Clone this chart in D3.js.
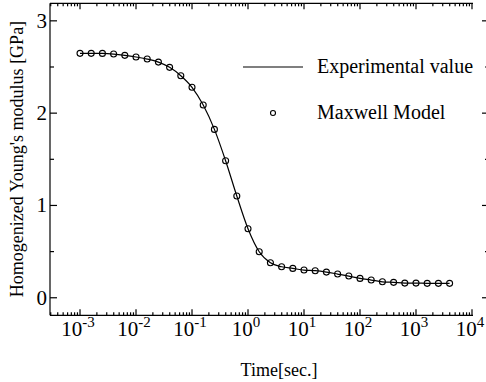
<!DOCTYPE html>
<html>
<head>
<meta charset="utf-8">
<script src="https://cdn.jsdelivr.net/npm/d3@7"></script>
<style>
  body { margin: 0; background: #fff; }
  svg text { font-family: 'Liberation Serif', 'Times New Roman', Times, serif; fill: #000; font-weight: normal; }
</style>
</head>
<body>
<svg id="chart" width="486" height="382"></svg>
<script>
// time points (log10 of seconds)
const logTimes = [-3, -2.8, -2.6, -2.4, -2.2, -2, -1.8, -1.6, -1.4, -1.2, -1, -0.8, -0.6, -0.4, -0.2,
  0, 0.2, 0.4, 0.6, 0.8, 1, 1.2, 1.4, 1.6, 1.8, 2, 2.2, 2.4, 2.6, 2.8, 3, 3.2, 3.4, 3.6];
// experimental curve
const experimental = [2.648, 2.648, 2.647, 2.64, 2.626, 2.608, 2.586, 2.553, 2.496, 2.405, 2.28, 2.088, 1.824, 1.484, 1.102,
  0.748, 0.498, 0.379, 0.336, 0.318, 0.3, 0.293, 0.278, 0.257, 0.235, 0.21, 0.192, 0.173, 0.167, 0.159, 0.159, 0.156, 0.156, 0.156];
// Maxwell model points
const maxwell = [2.648, 2.648, 2.647, 2.64, 2.626, 2.608, 2.586, 2.553, 2.496, 2.405, 2.28, 2.088, 1.824, 1.484, 1.102,
  0.748, 0.498, 0.379, 0.336, 0.318, 0.3, 0.293, 0.278, 0.257, 0.235, 0.21, 0.192, 0.173, 0.167, 0.159, 0.159, 0.156, 0.156, 0.156];
const xExponents = [-3, -2, -1, 0, 1, 2, 3, 4];
const yTicks = [0, 1, 2, 3];
const yMinor = [0.5, 1.5, 2.5];

const svg = d3.select('#chart');
const pLeft = 50, pRight = 472, pTop = 3.3, pBottom = 315.3;
const serif = "'Liberation Serif', 'Times New Roman', serif";

const x = d3.scaleLog().domain([Math.pow(10, -3.536), 1e4]).range([pLeft, pRight]);
const y = d3.scaleLinear().domain([-0.19, 3.19]).range([pBottom, pTop]);
const rightSpine = 489;

// minor x ticks
const minorX = [];
for (let e = -4; e < 4; e++) {
  for (let k = 2; k <= 9; k++) {
    const v = k * Math.pow(10, e);
    if (x(v) >= pLeft && x(v) <= pRight) minorX.push(v);
  }
}

const axes = svg.append('g').attr('stroke', '#000').attr('stroke-width', 1.2).attr('fill', 'none');

// spines
axes.append('line').attr('x1', pLeft).attr('x2', pLeft).attr('y1', pTop).attr('y2', pBottom);
axes.append('line').attr('x1', pLeft).attr('x2', pRight + 1).attr('y1', pBottom).attr('y2', pBottom);
axes.append('line').attr('x1', pLeft).attr('x2', pRight + 1).attr('y1', pTop).attr('y2', pTop);

// x ticks (bottom and top, inward)
xExponents.forEach(function (e) {
  const px = x(Math.pow(10, e));
  axes.append('line').attr('x1', px).attr('x2', px).attr('y1', pBottom).attr('y2', pBottom - 6);
  axes.append('line').attr('x1', px).attr('x2', px).attr('y1', pTop).attr('y2', pTop + 6);
});
minorX.forEach(function (v) {
  const px = x(v);
  axes.append('line').attr('x1', px).attr('x2', px).attr('y1', pBottom).attr('y2', pBottom - 3);
  axes.append('line').attr('x1', px).attr('x2', px).attr('y1', pTop).attr('y2', pTop + 3);
});

// y ticks (left and right, inward)
yTicks.forEach(function (v) {
  axes.append('line').attr('x1', pLeft).attr('x2', pLeft + 7).attr('y1', y(v)).attr('y2', y(v));
  axes.append('line').attr('x1', rightSpine).attr('x2', rightSpine - 7).attr('y1', y(v)).attr('y2', y(v));
});
yMinor.forEach(function (v) {
  axes.append('line').attr('x1', pLeft).attr('x2', pLeft + 4).attr('y1', y(v)).attr('y2', y(v));
  axes.append('line').attr('x1', rightSpine).attr('x2', rightSpine - 4).attr('y1', y(v)).attr('y2', y(v));
});

// y tick labels
svg.append('g').selectAll('text').data(yTicks).enter().append('text')
  .attr('font-family', serif)
  .attr('x', 47).attr('y', function (d) { return y(d) + 7; })
  .attr('text-anchor', 'end').attr('font-size', 21)
  .text(function (d) { return d; });

// x tick labels as 10^n
const xl = svg.append('g').selectAll('text').data(xExponents).enter().append('text')
  .attr('font-family', serif)
  .attr('x', function (d) { return x(Math.pow(10, d)) - 2; })
  .attr('y', 336).attr('text-anchor', 'middle').attr('font-size', 21);
xl.append('tspan').text('10');
xl.append('tspan').attr('font-size', 15).attr('dy', -9).text(function (d) { return d; });

// axis titles
svg.append('text').attr('font-family', serif).attr('x', 279).attr('y', 376).attr('text-anchor', 'middle')
  .attr('font-size', 18).text('Time[sec.]');
svg.append('text').attr('font-family', serif).attr('transform', 'translate(23,159) rotate(-90)')
  .attr('text-anchor', 'middle').attr('font-size', 18)
  .text("Homogenized Young's modulus [GPa]");

// experimental line
const line = d3.line()
  .x(function (d, i) { return x(Math.pow(10, logTimes[i])); })
  .y(function (d) { return y(d); })
  .curve(d3.curveMonotoneX);
svg.append('path').datum(experimental).attr('d', line)
  .attr('fill', 'none').attr('stroke', '#000').attr('stroke-width', 1.2);

// Maxwell circles
svg.append('g').selectAll('circle').data(maxwell).enter().append('circle')
  .attr('cx', function (d, i) { return x(Math.pow(10, logTimes[i])); })
  .attr('cy', function (d) { return y(d); })
  .attr('r', 3).attr('fill', 'none').attr('stroke', '#000').attr('stroke-width', 1.1);

// legend
const lg = svg.append('g');
lg.append('line').attr('x1', 243).attr('x2', 303).attr('y1', 67).attr('y2', 67)
  .attr('stroke', '#000').attr('stroke-width', 1.2);
lg.append('text').attr('font-family', serif).attr('x', 317).attr('y', 73).attr('font-size', 20).text('Experimental value');
lg.append('circle').attr('cx', 273).attr('cy', 113).attr('r', 2.5)
  .attr('fill', 'none').attr('stroke', '#000').attr('stroke-width', 1.1);
lg.append('text').attr('font-family', serif).attr('x', 317).attr('y', 119).attr('font-size', 20).text('Maxwell Model');
</script>
</body>
</html>
